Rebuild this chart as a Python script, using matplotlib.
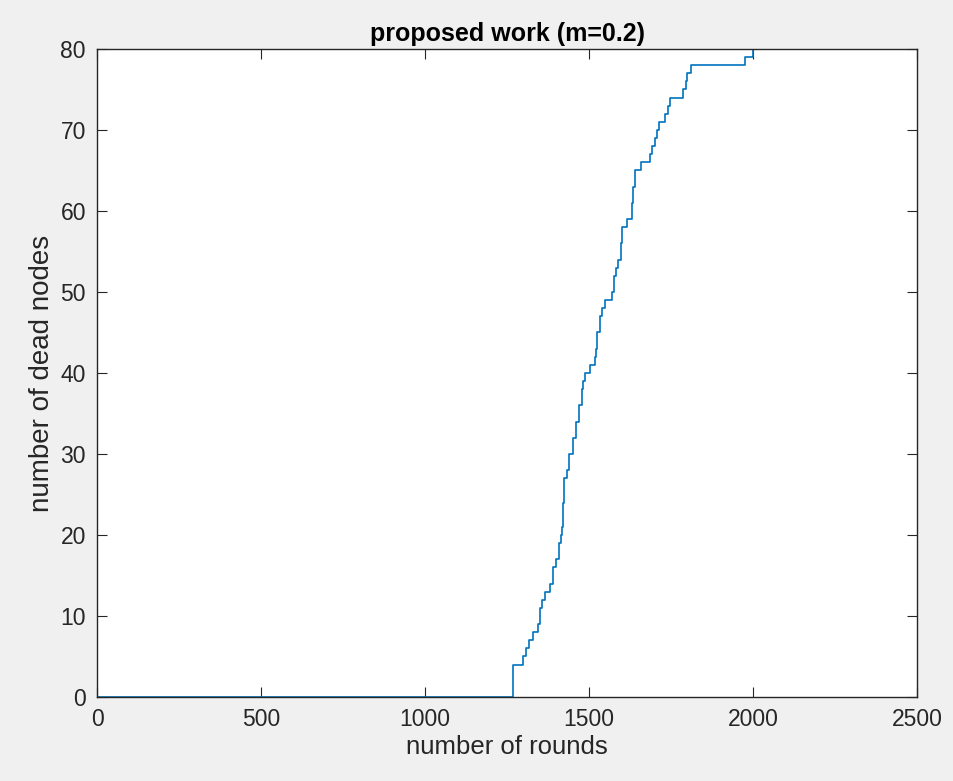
import matplotlib

matplotlib.use("Agg")
import matplotlib.pyplot as plt

# rounds at which the dead-node count changes, and the new count
rounds = [0, 1267, 1300, 1308, 1317, 1330, 1345, 1350, 1356, 1366, 1381, 1391, 1400,
          1409, 1414, 1417, 1421, 1425, 1433, 1440, 1450, 1460, 1470, 1478, 1483,
          1488, 1503, 1518, 1521, 1525, 1533, 1540, 1549, 1570, 1575, 1583, 1588,
          1597, 1600, 1615, 1630, 1635, 1640, 1660, 1686, 1692, 1700, 1707, 1714,
          1732, 1740, 1747, 1787, 1796, 1799, 1810, 1976, 2000]
dead_nodes = [0, 4, 5, 6, 7, 8, 9, 11, 12, 13, 14, 16, 17,
              19, 20, 21, 24, 27, 28, 30, 32, 34, 36, 38, 39,
              40, 41, 42, 43, 45, 47, 48, 49, 50, 52, 53, 54,
              56, 58, 59, 61, 63, 65, 66, 67, 68, 69, 70, 71,
              72, 73, 74, 75, 76, 77, 78, 79, 80]

x_ticks = [0, 500, 1000, 1500, 2000, 2500]
y_ticks = [0, 10, 20, 30, 40, 50, 60, 70, 80]

plt.rcParams["font.family"] = ["Liberation Sans", "DejaVu Sans"]

fig = plt.figure(figsize=(9.54, 7.81), dpi=100, facecolor="#f0f0f0")
ax = fig.add_axes([0.1017, 0.1076, 0.8595, 0.8297])
ax.set_facecolor("white")

ax.plot(rounds, dead_nodes, drawstyle="steps-post", color="#0072BD", linewidth=1.2)

ax.set_xlim(0, 2500)
ax.set_ylim(0, 80)
ax.set_xticks(x_ticks)
ax.set_yticks(y_ticks)
ax.tick_params(direction="in", top=True, right=True, length=7, width=0.8,
               labelsize=16.5, colors="#262626", pad=8)
for side in ax.spines.values():
    side.set_color("#262626")
    side.set_linewidth(1.0)

ax.set_xlabel("number of rounds", fontsize=18.5, color="#262626", labelpad=3)
ax.set_ylabel("number of dead nodes", fontsize=20, color="#262626", labelpad=4)
ax.set_title("proposed work (m=0.2)", fontsize=18, fontweight="bold", pad=6)

fig.savefig("out.png", dpi=100, facecolor=fig.get_facecolor())
